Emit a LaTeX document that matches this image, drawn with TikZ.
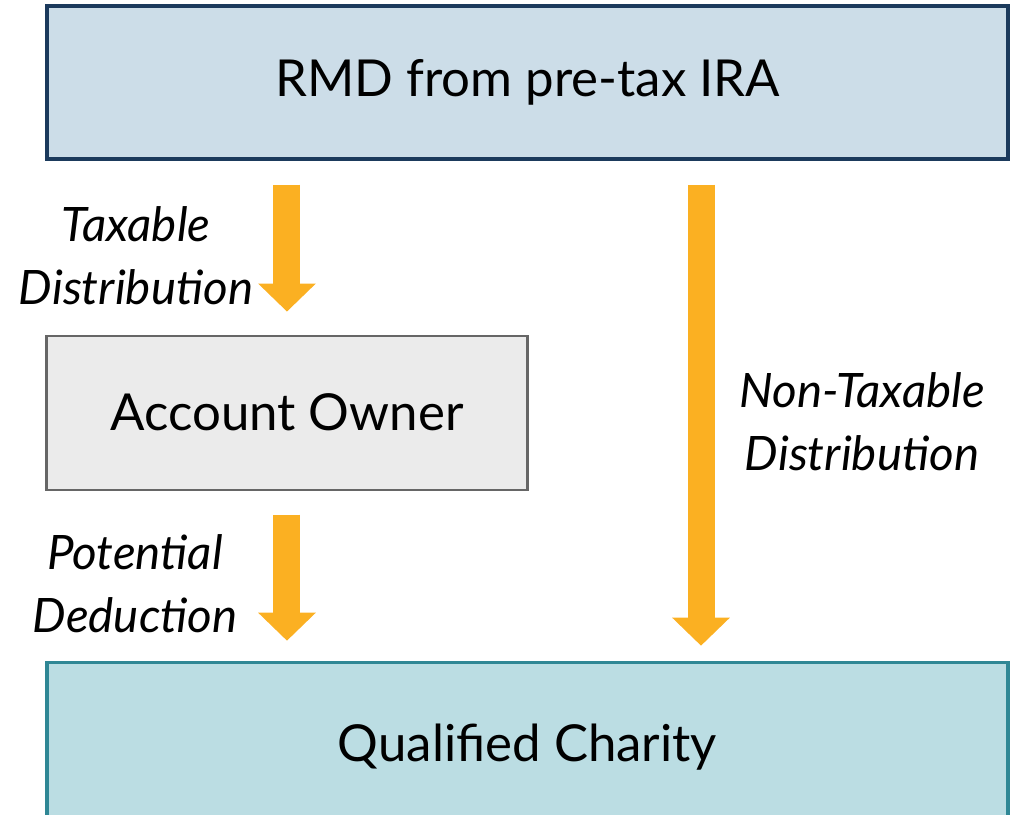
\documentclass[tikz,border=0pt]{standalone}
\usepackage{fontspec}
\setmainfont{Lato}
\usetikzlibrary{arrows.meta,positioning}

\definecolor{rmdfill}{HTML}{CCDDE8}
\definecolor{rmdline}{HTML}{1B3A5C}
\definecolor{ownerfill}{HTML}{EBEBEB}
\definecolor{ownerline}{HTML}{666666}
\definecolor{charityfill}{HTML}{BBDDE3}
\definecolor{charityline}{HTML}{2F8795}
\definecolor{flowcol}{HTML}{FBB022}

\begin{document}
\begin{tikzpicture}[
    box/.style={draw,rectangle,font=\fontsize{14.5}{17}\selectfont,inner sep=0pt},
    lbl/.style={font=\fontsize{13.5}{18}\selectfont\itshape,align=center},
    flow/.style={draw=flowcol,line width=0.27cm,
                 -{Triangle[width=0.56cm,length=0.28cm]}},
  ]
\useasboundingbox (0,0) rectangle (10.17,-8.14);

\node[box,fill=rmdfill,draw=rmdline,line width=0.9pt,
      minimum width=9.61cm,minimum height=1.53cm] (rmd) at (5.275,-0.825) {RMD from pre-tax IRA};
\node[box,fill=ownerfill,draw=ownerline,line width=0.6pt,
      minimum width=4.81cm,minimum height=1.54cm,
      below=1.74cm of rmd.south west,anchor=north west] (owner) {Account Owner};
\node[box,fill=charityfill,draw=charityline,line width=0.9pt,
      minimum width=9.61cm,minimum height=1.70cm,
      below=1.70cm of owner.south west,anchor=north west] (charity) {Qualified Charity};

% arrows between the boxes
\draw[flow,shorten <=0.24cm,shorten >=0.23cm] (owner.north |- rmd.south) -- (owner.north);
\draw[flow,shorten <=0.24cm,shorten >=0.20cm] (owner.south) -- (owner.south |- charity.north);
\draw[flow,shorten <=0.24cm,shorten >=0.15cm] ([xshift=1.735cm]rmd.south) -- ([xshift=1.735cm]charity.north);

\node[lbl] (taxlbl) at (1.36,-2.56) {Taxable\\Distribution};
\node[lbl] (deductlbl) at (1.35,-5.84) {Potential\\Deduction};
\node[lbl] (nontaxlbl) at (8.62,-4.22) {Non-Taxable\\Distribution};
\end{tikzpicture}
\end{document}
